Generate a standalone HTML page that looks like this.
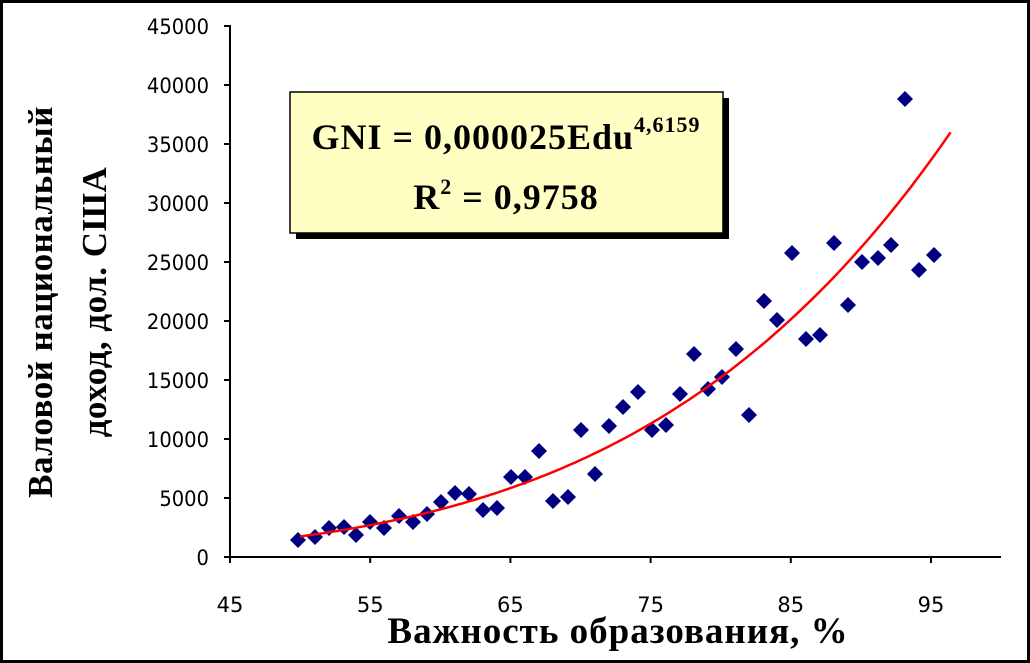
<!DOCTYPE html>
<html><head><meta charset="utf-8"><style>
html,body{margin:0;padding:0;background:#fff}
svg{display:block}
</style></head><body>
<svg id="s" width="1030" height="663" xmlns="http://www.w3.org/2000/svg">
<rect x="1.5" y="1.5" width="1027" height="660" fill="#fff" stroke="#000" stroke-width="3"/>
<g font-family="DejaVu Sans, sans-serif" font-size="21" fill="#000" text-anchor="end" id="yt" transform="scale(0.93,1)"></g>
<g font-family="DejaVu Sans, sans-serif" font-size="21" fill="#000" text-anchor="middle" id="xt"></g>
<line x1="230" y1="25" x2="230" y2="557" stroke="#000" stroke-width="2"/>
<line x1="230" y1="557" x2="1001" y2="557" stroke="#000" stroke-width="2"/>
<g id="pts" fill="#000080"></g>
<polyline id="trend" fill="none" stroke="#ff0000" stroke-width="2.5"/>
<rect x="296" y="98" width="433" height="141" fill="#000"/>
<rect x="290" y="92" width="433" height="141" fill="#ffffc4" stroke="#000" stroke-width="1.5"/>
<text x="506" y="149" text-anchor="middle" font-family="Liberation Serif, serif" font-weight="bold" font-size="36" letter-spacing="1">GNI = 0,000025Edu<tspan dy="-17" font-size="22">4,6159</tspan></text>
<text x="506" y="209" text-anchor="middle" font-family="Liberation Serif, serif" font-weight="bold" font-size="36" letter-spacing="1">R<tspan dy="-15" font-size="22">2</tspan><tspan dy="15"> = 0,9758</tspan></text>
<text x="618" y="643" text-anchor="middle" font-family="Liberation Serif, serif" font-weight="bold" font-size="37" letter-spacing="1">Важность образования, %</text>
<text transform="translate(52,302) rotate(-90)" text-anchor="middle" font-family="Liberation Serif, serif" font-weight="bold" font-size="35" letter-spacing="0.5">Валовой национальный</text>
<text transform="translate(106,302) rotate(-90)" text-anchor="middle" font-family="Liberation Serif, serif" font-weight="bold" font-size="35" letter-spacing="0.5">доход, дол. США</text>
</svg>
<script>
var NS="http://www.w3.org/2000/svg";
function X(v){return 230+(v-45)*14.02;}
function Y(v){return 557-v/5000*59;}
var yt=document.getElementById('yt'),xt=document.getElementById('xt'),s=document.getElementById('s');
for(var v=0;v<=45000;v+=5000){var t=document.createElementNS(NS,'text');t.setAttribute('x',209/0.93);t.setAttribute('y',Y(v)+8);t.textContent=v;yt.appendChild(t);
var l=document.createElementNS(NS,'line');l.setAttribute('x1',224);l.setAttribute('x2',230);l.setAttribute('y1',Y(v));l.setAttribute('y2',Y(v));l.setAttribute('stroke','#000');l.setAttribute('stroke-width',2);s.appendChild(l);}
for(var v=45;v<=95;v+=10){var t=document.createElementNS(NS,'text');t.setAttribute('x',X(v));t.setAttribute('y',612);t.textContent=v;xt.appendChild(t);
var l=document.createElementNS(NS,'line');l.setAttribute('x1',X(v));l.setAttribute('x2',X(v));l.setAttribute('y1',557);l.setAttribute('y2',563);l.setAttribute('stroke','#000');l.setAttribute('stroke-width',2);s.appendChild(l);}
var P=[[298,540],[315,537],[329,528],[344,527],[356,535],[370,522],[384,528],[399,516],[413,522],[427,514],[441,502],[455,493],[469,494],[483,510],[497,508],[511,477],[525,477],[539,451],[553,501],[568,497],[581,430],[595,474],[609,426],[623,407],[638,392],[652,430],[666,425],[680,394],[694,354],[708,389],[722,377],[736,349],[749,415],[764,301],[792,253],[777,320],[806,339],[820,335],[834,243],[848,305],[862,262],[878,258],[891,245],[905,99],[919,270],[934,255]];
var g=document.getElementById('pts');
P.forEach(function(p){var d=document.createElementNS(NS,'polygon');var x=p[0],y=p[1];d.setAttribute('points',(x)+','+(y-8)+' '+(x+8)+','+y+' '+x+','+(y+8)+' '+(x-8)+','+y);g.appendChild(d);});
var pts=[];for(var e=50;e<=96.6;e+=0.4){pts.push(X(e).toFixed(1)+','+Y(0.000025*Math.pow(e,4.6159)).toFixed(1));}
document.getElementById('trend').setAttribute('points',pts.join(' '));
</script>
</body></html>
